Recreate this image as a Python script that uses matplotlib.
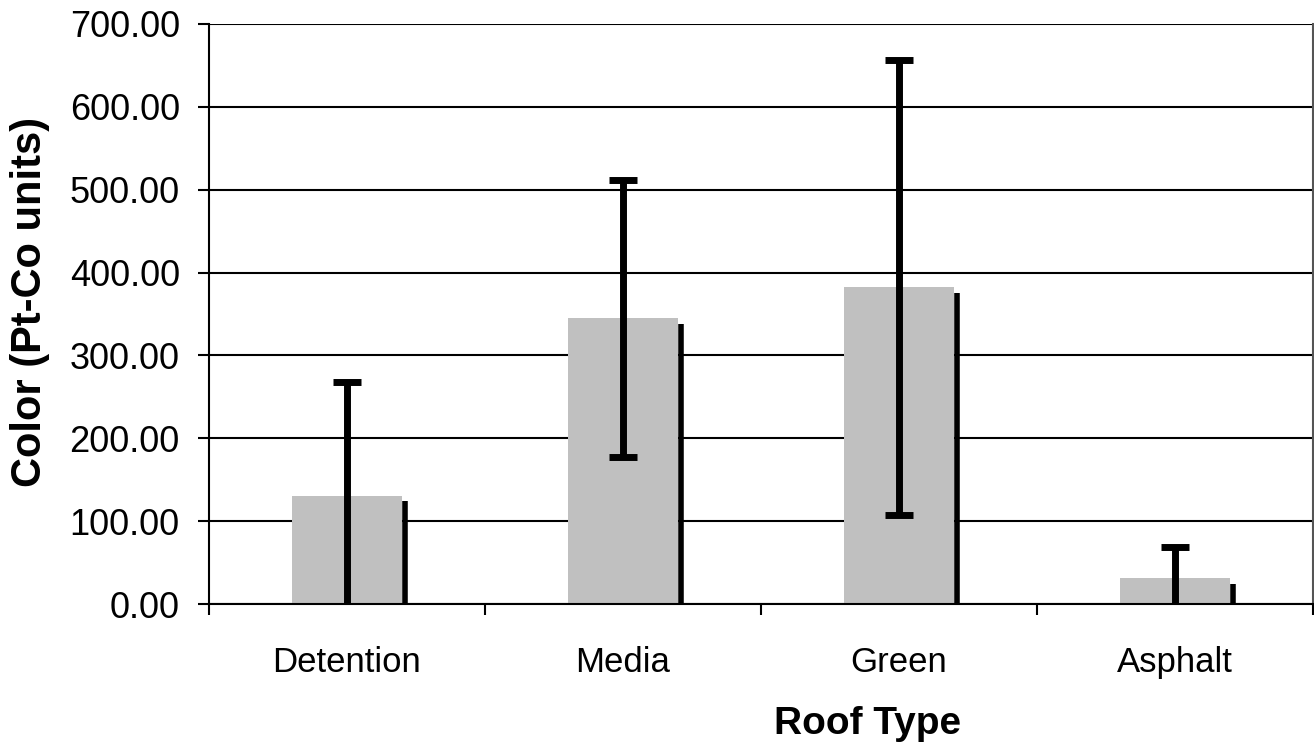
import matplotlib.pyplot as plt
import numpy as np

# Data ########################################################################

roofs = ["Detention", "Media", "Green", "Asphalt"]
color_mean = [131, 345, 382, 31]
color_sd = [137, 167, 274, 38]

# Plot ########################################################################

plt.rcParams['font.family'] = ['Liberation Sans', 'DejaVu Sans']

fig = plt.figure(figsize=(13.14, 7.44), dpi=100)
ax = fig.add_axes([0.159, 0.188, 0.840, 0.780])

x = np.arange(len(roofs))
barWidth = 0.40

ax.bar(x, color_mean, width=barWidth, color='#c0c0c0', zorder=2)

# dark edge on the right of each bar (old Excel shadow)
shift = 7
ax.vlines(x + barWidth / 2 + 0.01, 0, np.array(color_mean) - shift,
          color='black', lw=4, zorder=2)

ax.errorbar(x, color_mean, yerr=color_sd, fmt='none', ecolor='black',
            elinewidth=5, capsize=10, capthick=5, zorder=3)

ax.set_xlim(-0.5, len(roofs) - 0.5)
ax.set_ylim(0, 700)
ax.set_yticks(np.arange(0, 701, 100))
ax.set_yticklabels(['%.2f' % v for v in np.arange(0, 701, 100)], fontsize=26)
ax.yaxis.grid(True, color='black', lw=1.5)
ax.set_axisbelow(True)

ax.set_xticks(x)
ax.set_xticklabels(roofs, fontsize=25)
ax.set_xticks(np.arange(-0.5, len(roofs)), minor=True)
ax.tick_params(axis='x', which='major', length=0, pad=30)
ax.tick_params(axis='x', which='minor', length=8, width=1.5)
ax.tick_params(axis='y', length=8, width=1.5, pad=13)

for s in ['left', 'right', 'bottom']:
    ax.spines[s].set_linewidth(1.5)
    ax.spines[s].set_color('black')
ax.spines['top'].set_visible(False)
ax.spines['right'].set_color('#555555')

ax.set_xlabel('Roof Type', fontsize=28, fontweight='bold')
ax.xaxis.set_label_coords(0.597, -0.175)
ax.set_ylabel('Color (Pt-Co units)', fontsize=30, fontweight='bold')
ax.yaxis.set_label_coords(-0.144, 0.52)

plt.savefig('out.png', dpi=100)
